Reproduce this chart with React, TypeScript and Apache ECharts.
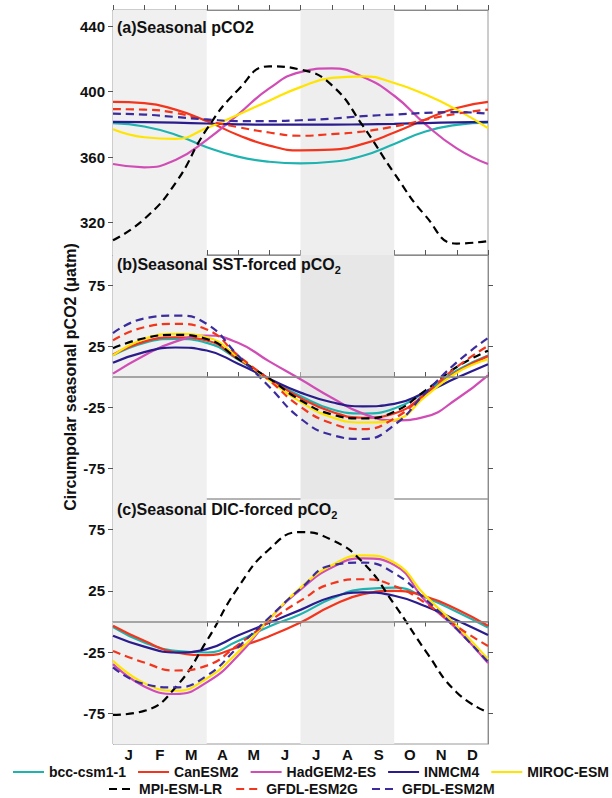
import React, { useEffect, useRef } from 'react';
import * as echarts from 'echarts';

// ---------- data ----------
const MONTH_NAMES = ['Jan', 'Feb', 'Mar', 'Apr', 'May', 'Jun', 'Jul', 'Aug', 'Sep', 'Oct', 'Nov', 'Dec'];
const MONTH_EDGES = [0, 1, 2, 3, 4, 5, 6, 7, 8, 9, 10, 11, 12];
const MODELS = ['bcc-csm1-1', 'CanESM2', 'HadGEM2-ES', 'INMCM4', 'MIROC-ESM', 'MPI-ESM-LR', 'GFDL-ESM2G', 'GFDL-ESM2M'];

const Y_TICKS_A = [320, 360, 400, 440];
const Y_TICKS_BC = [-75, -25, 25, 75];

// (a) Seasonal pCO2 (µatm), values at month boundaries
const A_BCC = [380.7, 378.7, 373.6, 366, 360.2, 357.1, 356.1, 357.1, 360.8, 368, 375.6, 379.7, 381.1];
const A_CAN = [393.7, 393, 389, 382, 373.5, 367, 364, 364.5, 368, 375, 383, 390, 393.7];
const A_HAD = [355.7, 353.7, 358.2, 370.5, 386, 402, 412, 414.2, 409, 397.5, 380, 365.3, 355.7];
const A_INM = [381.5, 381.3, 381, 380.5, 380, 379.8, 379.8, 379.8, 380, 380.3, 380.8, 381.2, 381.5];
const A_MIR = [377, 372.1, 371.1, 377.7, 385.9, 394.5, 402.8, 408.4, 409.4, 405.3, 398.2, 389, 377.7];
const A_MPI = [309, 322, 344, 377, 401, 415.5, 413.5, 404, 379, 350, 324, 307, 308.5];
const A_G2G = [389.3, 389, 387, 382.2, 378.3, 375, 373, 374, 375.6, 378.7, 382.8, 386.5, 389];
const A_G2M = [386.5, 386, 384.5, 383, 382, 382, 382.5, 383.5, 385, 386, 387, 387.5, 386.5];

// (b) Seasonal SST-forced pCO2
const B_BCC = [17.7, 28, 31.2, 28, 14.4, -1.9, -15.5, -26.4, -29.9, -25.8, -12.2, 5.4, 17.7];
const B_CAN = [18.2, 29, 32.6, 29.9, 15, -1.4, -17.1, -28.5, -33.4, -29.9, -14.4, 4.1, 17.1];
const B_HAD = [2.7, 17.7, 29, 34, 28, 12.8, -1.9, -17, -30, -35.5, -32.5, -18, 1.4];
const B_INM = [11.7, 20.4, 24.2, 21.7, 10.9, -1.4, -12.8, -20.7, -24, -22, -12.5, -0.7, 10.5];
const B_MIR = [17.7, 31.2, 35.3, 32.6, 16.3, -2.7, -20.4, -33, -37.3, -35.3, -15.8, 3.5, 14.5];
const B_MPI = [23.6, 31.8, 34.5, 31.2, 15, -1.4, -19, -30.7, -34, -28.5, -10.9, 8.2, 21.5];
const B_G2G = [30, 40.8, 43.5, 38.9, 17.7, -2.7, -24.5, -38, -42.7, -34, -13.6, 8.2, 25.5];
const B_G2M = [36, 48, 50.3, 43.5, 17.7, -8, -34, -47.5, -50.8, -39.4, -13, 12, 32];

// (c) Seasonal DIC-forced pCO2
const C_BCC = [-4.5, -17.1, -23.9, -25.3, -16, -4, 6, 18.7, 26.4, 27.7, 19.6, 7.9, -4.9];
const C_CAN = [-3.5, -15.8, -25.3, -27.4, -21, -12, -0.8, 12.8, 22.3, 25, 20.4, 10, -3.5];
const C_HAD = [-34.8, -53, -59.2, -49.7, -28, 1.9, 26, 44, 51.6, 46.2, 16.8, -6.2, -34];
const C_INM = [-11.7, -20.5, -25.3, -22.5, -11.5, -1, 9.5, 20, 23.7, 21, 12.5, 1, -11];
const C_MIR = [-32, -50.3, -56.5, -46.5, -25, 1.9, 27.7, 45.9, 54, 48.1, 20.9, -3.5, -30.7];
const C_MPI = [-76.3, -73, -53.8, -15.8, 27.7, 59, 73, 66.6, 48.1, 14.1, -23.9, -57.9, -74.2];
const C_G2G = [-24, -33.5, -40, -36, -19, 0, 17, 31, 34.5, 29, 15, -4, -20];
const C_G2M = [-37.5, -51, -53.8, -44.3, -21, 3.3, 26.8, 45.9, 48.1, 39.4, 18.2, -6.2, -33];

const PANEL_A = [A_BCC, A_CAN, A_HAD, A_INM, A_MIR, A_MPI, A_G2G, A_G2M];
const PANEL_B = [B_BCC, B_CAN, B_HAD, B_INM, B_MIR, B_MPI, B_G2G, B_G2M];
const PANEL_C = [C_BCC, C_CAN, C_HAD, C_INM, C_MIR, C_MPI, C_G2G, C_G2M];

// ---------- styles ----------
const COLORS = ['#1fb3b0', '#f2351c', '#d04db6', '#2a1c8c', '#ffe400', '#000000', '#f2351c', '#3b2c9e'];
const DASHED = [false, false, false, false, false, true, true, true];
const FONT = '"Liberation Sans", Arial, Helvetica, sans-serif';

export default function App() {
  const ref = useRef<HTMLDivElement>(null);

  useEffect(() => {
    if (!ref.current) return;
    const chart = echarts.init(ref.current, null, { renderer: 'svg' });

    const L = 113, R = 124;
    const grids = [
      { left: L, right: R, top: 10, height: 245 },
      { left: L, right: R, top: 255, height: 244 },
      { left: L, right: R, top: 499, height: 245 },
    ].map((g) => ({ ...g, show: true, borderColor: '#9a9a9a', borderWidth: 1, backgroundColor: 'transparent' }));

    const tickStyle = { color: '#555', width: 1 };
    const axisLineStyle = { color: '#8a8a8a', width: 1 };

    const xAxes: any[] = [
      {
        type: 'value', gridIndex: 0, min: 0, max: 12, interval: 1, position: 'bottom',
        axisLine: { show: true, lineStyle: axisLineStyle }, axisTick: { show: true, inside: true, length: 5, lineStyle: tickStyle },
        axisLabel: { show: false }, splitLine: { show: false },
      },
      {
        type: 'value', gridIndex: 1, min: 0, max: 12, interval: 1, position: 'bottom',
        axisLine: { show: true, lineStyle: axisLineStyle }, axisTick: { show: true, inside: true, length: 5, lineStyle: tickStyle },
        axisLabel: { show: false }, splitLine: { show: false },
      },
      {
        type: 'value', gridIndex: 2, min: 0, max: 12, interval: 1, position: 'top',
        axisLine: { show: false }, axisTick: { show: false }, axisLabel: { show: false }, splitLine: { show: false },
      },
      {
        type: 'value', gridIndex: 0, min: 0, max: 12, interval: 1, position: 'top',
        axisLine: { show: true, lineStyle: axisLineStyle }, axisTick: { show: true, length: 5, lineStyle: tickStyle },
        axisLabel: { show: false }, splitLine: { show: false },
      },
      {
        type: 'category', gridIndex: 2, position: 'bottom', data: MONTH_NAMES, boundaryGap: true,
        axisLine: { show: true, lineStyle: axisLineStyle },
        axisTick: { show: true, length: 5, lineStyle: tickStyle, alignWithLabel: false },
        axisLabel: {
          show: true, margin: 3, fontSize: 15, fontWeight: 'bold', color: '#111', fontFamily: FONT,
          formatter: (v: string) => v.charAt(0),
        },
        splitLine: { show: false },
      },
    ];

    const mkY = (gi: number, min: number, max: number, ticks: number[], right: boolean) => ({
      type: 'value', gridIndex: gi, min, max, position: right ? 'right' : 'left',
      axisLine: { show: true, lineStyle: axisLineStyle },
      axisTick: { show: true, length: 5, lineStyle: tickStyle, customValues: ticks },
      axisLabel: right
        ? { show: false }
        : { show: true, customValues: ticks, margin: 8, fontSize: 15, fontWeight: 'bold', color: '#111', fontFamily: FONT },
      splitLine: { show: false },
    });

    const yAxes = [
      mkY(0, 300, 450, Y_TICKS_A, false),
      mkY(1, -100, 100, Y_TICKS_BC, false),
      mkY(2, -100, 100, Y_TICKS_BC, false),
      mkY(0, 300, 450, Y_TICKS_A, true),
      mkY(1, -100, 100, Y_TICKS_BC, true),
      mkY(2, -100, 100, Y_TICKS_BC, true),
    ];

    const series: any[] = [];
    const panels = [PANEL_A, PANEL_B, PANEL_C];
    panels.forEach((panel, gi) => {
      series.push({
        type: 'line', xAxisIndex: gi, yAxisIndex: gi, data: [], silent: true, z: 0,
        markArea: {
          silent: true,
          data: [
            [{ xAxis: 0, itemStyle: { color: '#f0f0f0' } }, { xAxis: 3 }],
            [{ xAxis: 6, itemStyle: { color: gi === 1 ? '#e7e7e7' : '#eeeeee' } }, { xAxis: 9 }],
          ],
        },
        markLine: gi === 0 ? undefined : {
          silent: true, symbol: 'none', label: { show: false },
          lineStyle: { color: '#8c8c8c', width: 1.5, type: 'solid' },
          data: [{ yAxis: 0 }],
        },
      });
      panel.forEach((vals, mi) => {
        series.push({
          type: 'line', name: MODELS[mi], xAxisIndex: gi, yAxisIndex: gi, z: 3,
          data: vals.map((v, i) => [MONTH_EDGES[i], v]),
          smooth: 0.5, symbol: 'none', showSymbol: false,
          color: COLORS[mi],
          lineStyle: { color: COLORS[mi], width: 2.2, type: DASHED[mi] ? [8, 5] : 'solid' },
        });
      });
    });

    const subRich = {
      m: { fontSize: 16, fontWeight: 'bold', color: '#111', fontFamily: FONT },
      s: { fontSize: 11, fontWeight: 'bold', color: '#111', fontFamily: FONT, padding: [10, 0, 0, 0] },
    };

    const legendText = { fontSize: 14, fontWeight: 'bold', color: '#111', fontFamily: FONT };
    const legendCommon = {
      selectedMode: false, padding: 0, itemHeight: 14,
      itemStyle: { opacity: 0 },
      lineStyle: { width: 2 },
      textStyle: legendText,
    };

    chart.setOption({
      animation: false,
      backgroundColor: '#ffffff',
      grid: grids,
      xAxis: xAxes,
      yAxis: yAxes,
      title: [
        { text: '(a)Seasonal pCO2', left: 112, top: 14, textStyle: { fontSize: 16, fontWeight: 'bold', color: '#111', fontFamily: FONT } },
        { text: '{m|(b)Seasonal SST-forced pCO}{s|2}', left: 112, top: 249, textStyle: { rich: subRich } },
        { text: '{m|(c)Seasonal DIC-forced pCO}{s|2}', left: 112, top: 494, textStyle: { rich: subRich } },
      ],
      legend: [
        { ...legendCommon, data: MODELS.slice(0, 5), left: 12, top: 765, width: 640, itemWidth: 31, itemGap: 11 },
        { ...legendCommon, data: MODELS.slice(5), left: 108, top: 782, width: 600, itemWidth: 25, itemGap: 13 },
      ],
      graphic: [
        {
          type: 'text', x: 70, y: 377, rotation: Math.PI / 2,
          style: {
            text: 'Circumpolar seasonal pCO2 (\u03bcatm)', align: 'center', verticalAlign: 'middle',
            font: 'bold 16px ' + FONT, fill: '#111',
          },
        },
      ],
      series,
    });

    return () => chart.dispose();
  }, []);

  return <div ref={ref} style={{ position: 'fixed', left: 0, top: 0, width: 612, height: 798 }} />;
}
